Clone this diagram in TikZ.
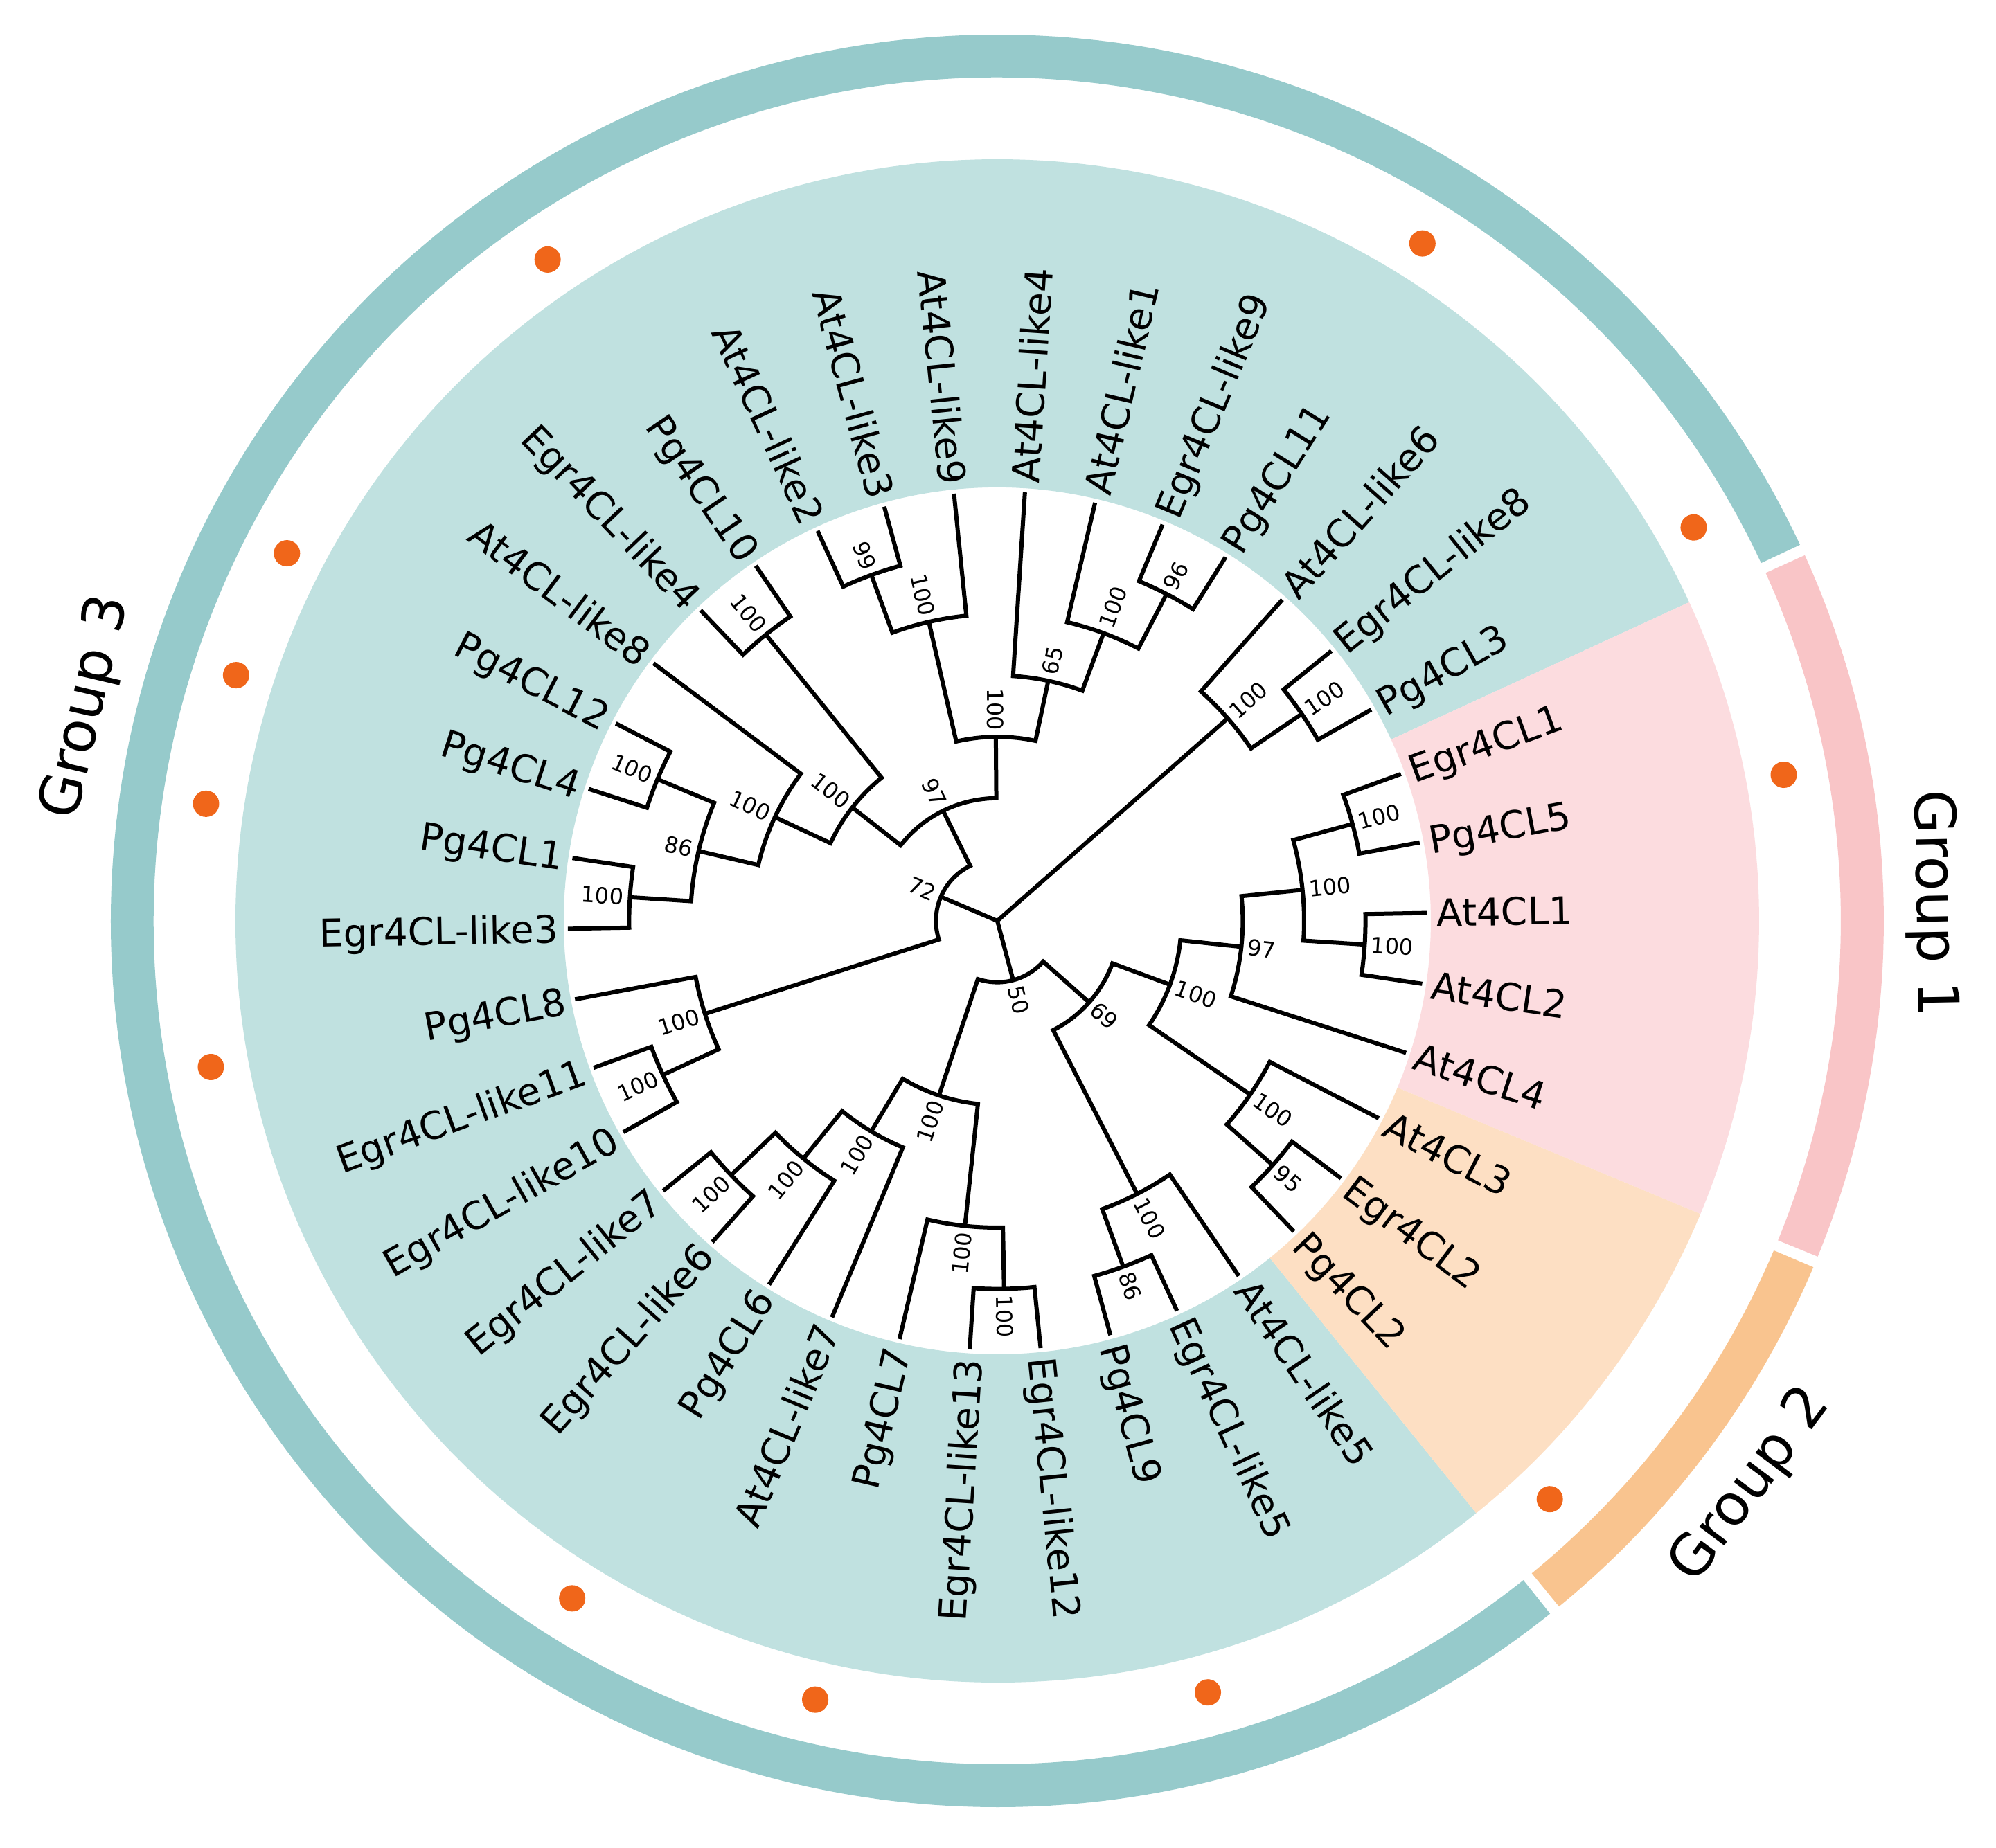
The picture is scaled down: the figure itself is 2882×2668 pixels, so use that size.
\documentclass[tikz,border=0pt]{standalone}
\usepackage{fontspec}
\setmainfont{DejaVu Sans}
\definecolor{ringteal}{HTML}{96CACB}
\definecolor{secteal}{HTML}{C0E1E0}
\definecolor{secpink}{HTML}{FCDCDF}
\definecolor{ringpink}{HTML}{F9C5C7}
\definecolor{secorange}{HTML}{FDDFC3}
\definecolor{ringorange}{HTML}{F9C48F}
\definecolor{dotorange}{HTML}{F0661A}
\newcommand\leaffont{\fontsize{55}{60}\selectfont}
\newcommand\bootfont{\fontsize{32}{35}\selectfont}
\newcommand\groupfont{\fontsize{82}{90}\selectfont}
\tikzset{
  branch/.style={line width=6pt, black, line join=miter},
  leaflab/.style={font=\leaffont, inner sep=0pt, text height=40pt, text depth=0pt},
  bootlab/.style={font=\bootfont, inner sep=0pt, text height=23.3pt, text depth=0pt},
  grouplab/.style={font=\groupfont, inner sep=0pt},
  pgdot/.style={circle, fill=dotorange, minimum size=38pt, inner sep=0pt},
}
\newcommand\annsec[5]{%
  \fill[#1] (#2:#4) arc[start angle=#2, end angle=#3, radius=#4] -- (#3:#5) arc[start angle=#3, end angle=#2, radius=#5] -- cycle;}
\newcommand\leafitem[2]{%
  \pgfmathsetmacro\tmpang{20-#1*360/38}%
  \expandafter\xdef\csname treeangL#1\endcsname{\tmpang}%
  \coordinate (L#1) at (\tmpang:620.2pt);
  \pgfmathsetmacro\tmpn{mod(\tmpang+900,360)-180}%
  \pgfmathtruncatemacro\tmpflip{abs(\tmpn)>90}%
  \ifnum\tmpflip=1
    \node[leaflab,anchor=east,rotate=\tmpn+180] (T#1) at (\tmpang:634pt) {#2};
  \else
    \node[leaflab,anchor=west,rotate=\tmpn] (T#1) at (\tmpang:634pt) {#2};
  \fi
}
\newcommand\cladearc[5]{%
  \edef\tmpa{\csname treeang#3\endcsname}%
  \edef\tmpb{\csname treeang#4\endcsname}%
  \pgfmathsetmacro\tmpr{#2*88.6}%
  \pgfmathsetmacro\tmpang{(\tmpa+\tmpb)/2}%
  \expandafter\xdef\csname treeang#1\endcsname{\tmpang}%
  \coordinate (#1) at (\tmpang:\tmpr pt);
  \draw[branch] (#3) -- (\tmpa:\tmpr pt) arc[start angle=\tmpa, end angle=\tmpb, radius=\tmpr pt] -- (#4);
  \pgfmathsetmacro\tmpn{mod(\tmpang+900,360)-180}%
  \pgfmathtruncatemacro\tmpflip{abs(\tmpn)>90}%
  \pgfmathsetmacro\tmpq{\tmpr+9}%
  \ifnum\tmpflip=1
    \node[bootlab,anchor=east,rotate=\tmpn+180] (#1lab) at (\tmpang:\tmpq pt) {#5};
  \else
    \node[bootlab,anchor=west,rotate=\tmpn] (#1lab) at (\tmpang:\tmpq pt) {#5};
  \fi
}
\begin{document}
\begin{tikzpicture}
\fill[white] (-1440pt,-1338pt) rectangle (1442pt,1330pt);
\useasboundingbox (-1440pt,-1338pt) rectangle (1442pt,1330pt);
% background sectors
\annsec{secteal}{24.737}{308.947}{626pt}{1100pt}
\annsec{secpink}{-22.632}{24.737}{626pt}{1100pt}
\annsec{secorange}{-51.053}{-22.632}{626pt}{1100pt}
% outer ring
\annsec{ringteal}{25.11}{308.58}{1218pt}{1280pt}
\annsec{ringpink}{-22.26}{24.37}{1218pt}{1280pt}
\annsec{ringorange}{-50.68}{-23.00}{1218pt}{1280pt}
% Pg markers
\foreach \i in {1,7,10,13,15,20,22,23,24,27,34,37}{
  \pgfmathsetmacro\dang{20-\i*360/38}
  \node[pgdot] (dot\i) at (\dang:1155pt) {};
}
% group labels
\node[grouplab, rotate=-88.95] (G1) at (1.05:1350pt) {Group 1};
\node[grouplab, rotate=53.2] (G2) at (-36.84:1360pt) {Group 2};
\node[grouplab, rotate=76.8] (G3) at (166.8:1350pt) {Group 3};
% leaves
\leafitem{0}{Egr4CL1}
\leafitem{1}{Pg4CL5}
\leafitem{2}{At4CL1}
\leafitem{3}{At4CL2}
\leafitem{4}{At4CL4}
\leafitem{5}{At4CL3}
\leafitem{6}{Egr4CL2}
\leafitem{7}{Pg4CL2}
\leafitem{8}{At4CL-like5}
\leafitem{9}{Egr4CL-like5}
\leafitem{10}{Pg4CL9}
\leafitem{11}{Egr4CL-like12}
\leafitem{12}{Egr4CL-like13}
\leafitem{13}{Pg4CL7}
\leafitem{14}{At4CL-like7}
\leafitem{15}{Pg4CL6}
\leafitem{16}{Egr4CL-like6}
\leafitem{17}{Egr4CL-like7}
\leafitem{18}{Egr4CL-like10}
\leafitem{19}{Egr4CL-like11}
\leafitem{20}{Pg4CL8}
\leafitem{21}{Egr4CL-like3}
\leafitem{22}{Pg4CL1}
\leafitem{23}{Pg4CL4}
\leafitem{24}{Pg4CL12}
\leafitem{25}{At4CL-like8}
\leafitem{26}{Egr4CL-like4}
\leafitem{27}{Pg4CL10}
\leafitem{28}{At4CL-like2}
\leafitem{29}{At4CL-like3}
\leafitem{30}{At4CL-like9}
\leafitem{31}{At4CL-like4}
\leafitem{32}{At4CL-like1}
\leafitem{33}{Egr4CL-like9}
\leafitem{34}{Pg4CL11}
\leafitem{35}{At4CL-like6}
\leafitem{36}{Egr4CL-like8}
\leafitem{37}{Pg4CL3}
% clades: group 1/2 side
\cladearc{A1}{6}{L0}{L1}{100}
\cladearc{A2}{6}{L2}{L3}{100}
\cladearc{A3}{5}{A1}{A2}{100}
\cladearc{A4}{4}{A3}{L4}{97}
\cladearc{A5}{6}{L6}{L7}{95}
\cladearc{A6}{5}{L5}{A5}{100}
\cladearc{A7}{3}{A4}{A6}{100}
\cladearc{A8}{6}{L9}{L10}{86}
\cladearc{A9}{5}{L8}{A8}{100}
\cladearc{A10}{2}{A7}{A9}{69}
% bottom
\cladearc{B1}{6}{L11}{L12}{100}
\cladearc{B2}{5}{B1}{L13}{100}
\cladearc{B3}{6}{L16}{L17}{100}
\cladearc{B4}{5}{L15}{B3}{100}
\cladearc{B5}{4}{L14}{B4}{100}
\cladearc{B6}{3}{B2}{B5}{100}
\cladearc{N50}{1}{A10}{B6}{50}
% left
\cladearc{C1}{6}{L18}{L19}{100}
\cladearc{C2}{5}{C1}{L20}{100}
\cladearc{C3}{6}{L21}{L22}{100}
\cladearc{C4}{6}{L23}{L24}{100}
\cladearc{C5}{5}{C3}{C4}{86}
\cladearc{C6}{4}{C5}{L25}{100}
\cladearc{C7}{6}{L26}{L27}{100}
\cladearc{C8}{3}{C6}{C7}{100}
% top
\cladearc{D1}{6}{L28}{L29}{99}
\cladearc{D2}{5}{D1}{L30}{100}
\cladearc{D3}{6}{L33}{L34}{96}
\cladearc{D4}{5}{L32}{D3}{100}
\cladearc{D5}{4}{L31}{D4}{65}
\cladearc{D6}{3}{D2}{D5}{100}
\cladearc{C9}{2}{C8}{D6}{97}
\cladearc{N72}{1}{C2}{C9}{72}
% top right
\cladearc{E1}{6}{L36}{L37}{100}
\cladearc{E2}{5}{L35}{E1}{100}
% root
\coordinate (root) at (0,0);
\draw[branch] (N72) -- (root) -- (N50);
\draw[branch] (root) -- (E2);
\end{tikzpicture}
\end{document}
